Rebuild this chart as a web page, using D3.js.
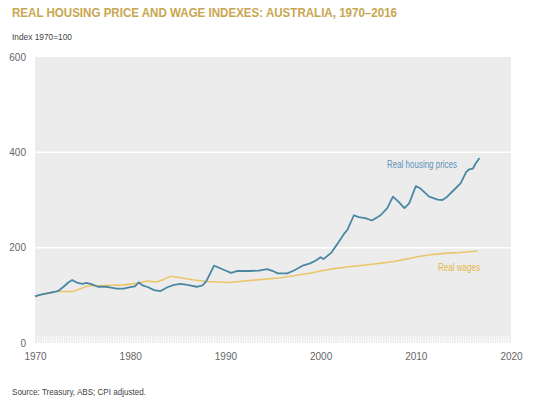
<!DOCTYPE html>
<html><head><meta charset="utf-8">
<script src="https://cdn.jsdelivr.net/npm/d3@7"></script>
<style>
html,body{margin:0;padding:0;background:#fff;}
text{font-family:"Liberation Sans Narrow","Arial Narrow","Liberation Sans",Arial,sans-serif;}
</style></head><body>
<svg id="chart" width="554" height="417"></svg>
<script>
const housingYears = [1970.0,1970.5,1971.0,1971.5,1972.0,1972.5,1973.0,1973.5,1973.9,1974.5,1975.0,1975.4,1976.0,1976.6,1977.5,1978.0,1978.6,1979.3,1980.0,1980.5,1980.9,1981.3,1981.9,1982.5,1983.2,1983.9,1984.6,1985.3,1986.0,1987.0,1987.6,1988.0,1988.5,1988.8,1989.2,1990.0,1990.6,1991.2,1992.0,1992.6,1993.5,1994.4,1995.0,1995.5,1996.5,1997.2,1998.2,1998.9,1999.5,2000.0,2000.3,2001.1,2001.8,2002.5,2002.8,2003.5,2004.0,2004.7,2005.4,2006.3,2007.0,2007.6,2008.2,2008.8,2009.3,2010.0,2010.5,2011.4,2012.3,2012.8,2013.3,2014.0,2014.7,2015.3,2015.6,2016.0,2016.3,2016.7];
const housingValues = [98,101,103,105,107,110,118,127,132,126,124,126,123,118,118,116,114,114,117,119,127,121,117,111,109,117,122,124,122,118,121,130,150,162,159,152,147,151,151,151,152,155,151,146,146,152,163,167,173,180,176,189,209,230,237,268,264,262,257,268,283,307,296,283,293,329,324,307,301,300,307,321,335,359,364,366,377,388];
const wageYears = [1970.0,1971.0,1972.0,1972.6,1974.0,1974.9,1975.6,1976.5,1978.0,1979.3,1980.7,1981.8,1982.8,1983.5,1984.2,1985.3,1986.7,1988.1,1990.2,1991.5,1993.0,1995.8,1997.5,1999.0,2000.0,2001.4,2003.0,2004.9,2006.5,2007.7,2009.0,2010.2,2011.5,2013.0,2014.7,2016.5];
const wageValues = [98,103,107,108,108,115,120,120,121,122,125,130,128,133,140,137,132,129,127,129,132,137,142,147,151,156,160,164,168,171,176,181,185,188,190,193];
const yTicks = [0,200,400,600];
const xTicks = [1970,1980,1990,2000,2010,2020];

const svg = d3.select("#chart");
const L = 35, R = 511, T = 57, B = 343;
const x = d3.scaleLinear().domain([1970,2020]).range([L,R]);
const y = d3.scaleLinear().domain([0,600]).range([B,T]);

// title
svg.append("text").attr("x",12).attr("y",17).attr("font-size",13).attr("font-weight","bold")
  .attr("fill","#c8a64e").attr("textLength",385).attr("lengthAdjust","spacingAndGlyphs")
  .text("REAL HOUSING PRICE AND WAGE INDEXES: AUSTRALIA, 1970–2016");
svg.append("text").attr("x",12).attr("y",40).attr("font-size",9.5).attr("fill","#444")
  .attr("textLength",60).attr("lengthAdjust","spacingAndGlyphs").text("Index 1970=100");

// plot background
svg.append("rect").attr("x",L).attr("y",T).attr("width",R-L).attr("height",B-T).attr("fill","#ececec");

// gridlines
svg.append("g").selectAll("line").data(yTicks.filter(d=>d>0 && d<600)).join("line")
  .attr("x1",L).attr("x2",R).attr("y1",d=>y(d)).attr("y2",d=>y(d))
  .attr("stroke","#fff").attr("stroke-width",1.5);

// minor quarterly ticks
const minor = d3.range(1970.25, 2020, 0.25);
svg.append("g").selectAll("line").data(minor).join("line")
  .attr("x1",d=>x(d)).attr("x2",d=>x(d)).attr("y1",B-7).attr("y2",B)
  .attr("stroke","#fff").attr("stroke-width",0.8);

// y axis
const yAxis = d3.axisLeft(y).tickValues(yTicks).tickSize(0).tickPadding(9);
const gy = svg.append("g").attr("transform",`translate(${L},0)`).call(yAxis);
gy.select(".domain").remove();
gy.selectAll("text").attr("font-size",10).attr("fill","#666")
  .style("font-family",'"Liberation Sans Narrow","Arial Narrow","Liberation Sans",Arial,sans-serif');

// x axis
const xAxis = d3.axisBottom(x).tickValues(xTicks).tickFormat(d3.format("d")).tickSize(0).tickPadding(10);
const gx = svg.append("g").attr("transform",`translate(0,${B})`).call(xAxis);
gx.select(".domain").remove();
gx.selectAll("text").attr("font-size",10).attr("fill","#666")
  .style("font-family",'"Liberation Sans Narrow","Arial Narrow","Liberation Sans",Arial,sans-serif');

// lines
const line = d3.line().x(d=>x(d[0])).y(d=>y(d[1]));
svg.append("path").datum(wageYears.map((d,i)=>[d,wageValues[i]]))
  .attr("d",line).attr("fill","none").attr("stroke","#ecc56a").attr("stroke-width",1.6);
svg.append("path").datum(housingYears.map((d,i)=>[d,housingValues[i]]))
  .attr("d",line).attr("fill","none").attr("stroke","#4a87a3").attr("stroke-width",1.8)
  .attr("stroke-linejoin","round");

// series labels
svg.append("text").attr("x",387).attr("y",168).attr("font-size",10).attr("fill","#5b93b8")
  .attr("textLength",70).attr("lengthAdjust","spacingAndGlyphs").text("Real housing prices");
svg.append("text").attr("x",438).attr("y",271).attr("font-size",10).attr("fill","#e2b64a")
  .attr("textLength",42).attr("lengthAdjust","spacingAndGlyphs").text("Real wages");

// source
svg.append("text").attr("x",12).attr("y",395).attr("font-size",9.5).attr("fill","#444")
  .attr("textLength",134).attr("lengthAdjust","spacingAndGlyphs").text("Source: Treasury, ABS; CPI adjusted.");
</script></body></html>
